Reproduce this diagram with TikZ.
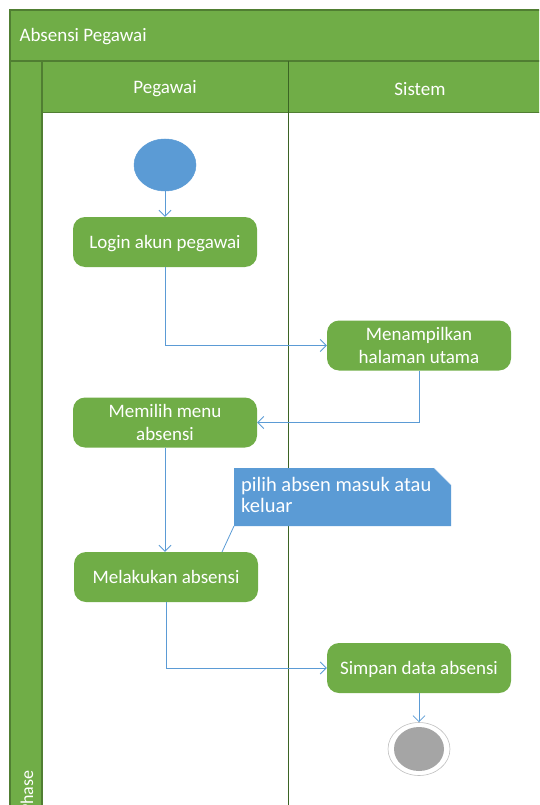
\documentclass[tikz,border=0pt]{standalone}
\usepackage{fontspec}
\setmainfont{Carlito}
\usetikzlibrary{arrows.meta,shapes.geometric}
\definecolor{lgreen}{HTML}{70AD47}
\definecolor{dgreen}{HTML}{507E32}
\definecolor{lanel}{HTML}{3B6424}
\definecolor{ublue}{HTML}{5B9BD5}
\definecolor{egrey}{HTML}{A5A5A5}
\tikzset{
  act/.style={draw=none, fill=lgreen, rounded corners=12pt, minimum width=184pt, minimum height=50pt,
    text=white, font=\fontsize{19}{23}\selectfont, align=center, inner sep=0pt, text depth=0pt},
  flow/.style={draw=ublue, line width=0.8pt, -{Straight Barb[open, length=6pt, width=12pt]}},
  hdr/.style={text=white, font=\fontsize{19}{23}\selectfont},
}
\begin{document}
\begin{tikzpicture}[x=1pt,y=1pt]
\useasboundingbox (0,0) rectangle (539,-805);
\clip (0,0) rectangle (539,-805);
% frame
\fill[lgreen] (10,-10) rectangle (560,-61);
\fill[lgreen] (10,-61) rectangle (42,-830);
\fill[lgreen] (42,-61) rectangle (560,-113);
\draw[dgreen, line width=1.5pt] (10,-830) -- (10,-10) -- (560,-10);
\draw[dgreen, line width=1.2pt] (10,-61) -- (560,-61);
\draw[dgreen, line width=1.2pt] (42,-61) -- (42,-830);
\draw[dgreen, line width=1pt] (42,-113) -- (560,-113);
\draw[lanel, line width=0.8pt] (288,-61) -- (288,-830);
% headers
\node[hdr, anchor=west] (title) at (16,-37) {Absensi Pegawai};
\node[hdr] (hpeg) at (165,-89) {Pegawai};
\node[hdr] (hsis) at (420,-89) {Sistem};
\node[hdr, rotate=90, anchor=east, font=\fontsize{18}{22}\selectfont] (phase) at (27,-767) {Phase};
% nodes
\node[draw=ublue, fill=ublue, ellipse, minimum width=62pt, minimum height=52pt, inner sep=0pt, line width=0.5pt] (start) at (165,-165) {};
\node[act] (login) at (165,-242) {Login akun pegawai};
\node[act] (tampil) at (419,-345.5) {Menampilkan\\halaman utama};
\node[act] (pilih) at (165,-422.5) {Memilih menu\\absensi};
\node[act] (absen) at (166,-577) {Melakukan absensi};
\node[act] (simpan) at (419,-668) {Simpan data absensi};
\node[draw=egrey!70, fill=white, ellipse, minimum width=62pt, minimum height=53pt, inner sep=0pt, line width=0.6pt] (end) at (419,-749) {};
\node[fill=egrey, ellipse, minimum width=50pt, minimum height=44pt, inner sep=0pt] (endin) at (419,-749) {};
% note
\fill[ublue] (234,-468) -- (434,-468) -- (451,-485) -- (451,-526) -- (234,-526) -- cycle;
\draw[ublue!40, line width=0.5pt] (434,-468) -- (451,-485);
\coordinate (notec) at (234,-526);
\node[anchor=north west, text=white, font=\fontsize{20.5}{21.5}\selectfont, align=left, inner sep=0pt] (note) at (241,-477) {pilih absen masuk atau\\keluar};
% connectors
\draw[flow] (start) -- (login);
\draw[flow] (login.south) |- (tampil.west);
\draw[flow] (tampil.south) |- (pilih.east);
\draw[flow] (pilih.south) -- (absen.north -| pilih.south);
\draw[ublue, line width=0.8pt] (notec) -- (222,-552);
\draw[flow] (absen.south) |- (simpan.west);
\draw[flow] (simpan.south) -- (end.north);
\end{tikzpicture}
\end{document}
